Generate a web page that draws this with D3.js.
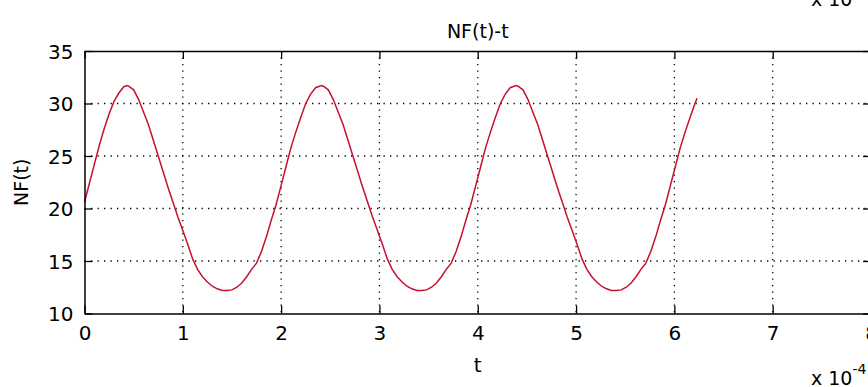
<!DOCTYPE html>
<html><head><meta charset="utf-8">
<script src="https://cdn.jsdelivr.net/npm/d3@7"></script>
<style>
html,body{margin:0;padding:0;background:#fff;overflow:hidden}
text{font-family:"DejaVu Sans",sans-serif;fill:#000}
</style></head>
<body><svg id="c" width="868" height="387"></svg>
<script>
// ---- data (t in units of 1e-4) ----
const tValues = [0,0.05,0.10,0.15,0.20,0.25,0.30,0.35,0.40,0.43,
0.45,0.50,0.55,0.60,0.65,0.70,0.75,0.80,0.85,0.90,0.95,1.00,1.05,1.10,1.15,1.20,1.25,1.30,1.35,1.40,1.45,
1.50,1.55,1.60,1.65,1.70,1.75,1.80,1.85,1.90,1.95,2.00,2.05,2.10,2.15,2.20,2.25,2.30,2.35,2.41,
2.43,2.48,2.53,2.58,2.63,2.68,2.73,2.78,2.83,2.88,2.93,2.98,3.03,3.08,3.13,3.18,3.23,3.28,3.33,3.38,3.43,
3.48,3.53,3.58,3.63,3.68,3.73,3.78,3.83,3.88,3.93,3.98,4.03,4.08,4.13,4.18,4.23,4.28,4.33,4.39,
4.41,4.46,4.51,4.56,4.61,4.66,4.71,4.76,4.81,4.86,4.91,4.96,5.01,5.06,5.11,5.16,5.21,5.26,5.31,5.36,5.41,
5.46,5.51,5.56,5.61,5.66,5.71,5.76,5.81,5.86,5.91,5.96,6.01,6.06,6.11,6.16,6.21,6.23];
const nfValues = [20.6,22.4,24.2,26.0,27.6,29.0,30.2,31.0,31.6,31.7,
31.65,31.3,30.4,29.2,28.0,26.5,25.0,23.5,22.0,20.6,19.2,17.9,16.6,15.2,14.2,13.5,13.0,12.6,12.35,12.2,12.18,
12.25,12.5,12.9,13.5,14.2,14.8,15.9,17.3,18.9,20.4,22.2,24.0,25.8,27.3,28.7,30.0,30.9,31.5,31.7,
31.65,31.3,30.4,29.2,28.0,26.5,25.0,23.5,22.0,20.6,19.2,17.9,16.6,15.2,14.2,13.5,13.0,12.6,12.35,12.2,12.18,
12.25,12.5,12.9,13.5,14.2,14.8,15.9,17.3,18.9,20.4,22.2,24.0,25.8,27.3,28.7,30.0,30.9,31.5,31.7,
31.65,31.3,30.4,29.2,28.0,26.5,25.0,23.5,22.0,20.6,19.2,17.9,16.6,15.2,14.2,13.5,13.0,12.6,12.35,12.2,12.18,
12.25,12.5,12.9,13.5,14.2,14.8,15.9,17.3,18.9,20.4,22.2,24.0,25.8,27.3,28.7,30.0,30.5];
const xTicks = [0,1,2,3,4,5,6,7,8];
const yTicks = [10,15,20,25,30,35];
const titleText = "NF(t)-t";
const xLabel = "t";
const yLabel = "NF(t)";

// ---- layout ----
const L = 84.5, R = 871, T = 51, B = 313.5;
const svg = d3.select("#c");
const x = d3.scaleLinear().domain([0,8]).range([L,R]);
const y = d3.scaleLinear().domain([10,35]).range([B,T]);
const fs = 20;
const FF = "DejaVu Sans, sans-serif";

// grid
const g = svg.append("g");
g.selectAll(".gx").data(xTicks.slice(1,-1)).join("line")
 .attr("x1",d=>x(d)).attr("x2",d=>x(d)).attr("y1",T).attr("y2",B)
 .attr("stroke","#000").attr("stroke-width",1.3).attr("stroke-dasharray","1.3,5.2");
g.selectAll(".gy").data(yTicks.slice(1,-1)).join("line")
 .attr("x1",L).attr("x2",R).attr("y1",d=>y(d)).attr("y2",d=>y(d))
 .attr("stroke","#000").attr("stroke-width",1.3).attr("stroke-dasharray","1.3,5.2");

// curve
const pts = tValues.map((t,i)=>[t,nfValues[i]]);
svg.append("path").datum(pts)
 .attr("d", d3.line().x(d=>x(d[0])).y(d=>y(d[1])))
 .attr("fill","none").attr("stroke","#c8102e").attr("stroke-width",1.5);

// axes (MATLAB style: inward ticks on all sides)
const tl = 8;
const xb = svg.append("g").attr("transform",`translate(0,${B})`)
 .call(d3.axisBottom(x).tickValues(xTicks).tickSize(-tl).tickPadding(tl+4).tickSizeOuter(0));
const xt = svg.append("g").attr("transform",`translate(0,${T})`)
 .call(d3.axisTop(x).tickValues(xTicks).tickSize(-tl).tickFormat("").tickSizeOuter(0));
const yl = svg.append("g").attr("transform",`translate(${L},0)`)
 .call(d3.axisLeft(y).tickValues(yTicks).tickSize(-tl).tickPadding(tl+3).tickSizeOuter(0));
const yr = svg.append("g").attr("transform",`translate(${R},0)`)
 .call(d3.axisRight(y).tickValues(yTicks).tickSize(-tl).tickFormat("").tickSizeOuter(0));
[xb,xt,yl,yr].forEach(a=>{
  a.select(".domain").attr("stroke","#000").attr("stroke-width",1.5);
  a.selectAll(".tick line").attr("stroke","#000").attr("stroke-width",1.3);
  a.selectAll("text").attr("font-family",FF).attr("font-size",fs).attr("fill","#000");
});
yl.selectAll("text").attr("dy","0.36em");

// title & labels
svg.append("text").attr("x",(L+R)/2).attr("y",38).attr("text-anchor","middle").attr("font-size",fs-1).text(titleText);
svg.append("text").attr("x",x(4)).attr("y",372).attr("text-anchor","middle").attr("font-size",fs).text(xLabel);
svg.append("text").attr("transform",`translate(28,${(T+B)/2}) rotate(-90)`).attr("text-anchor","middle").attr("font-size",fs-1).text(yLabel);

// exponent labels
const ex = svg.append("text").attr("x",811).attr("y",385).attr("font-size",fs-1);
ex.append("tspan").text("x 10");
ex.append("tspan").attr("dy",-11).attr("font-size",14).text("-4");
svg.append("text").attr("x",811).attr("y",6).attr("font-size",fs-1).text("x 10");
</script></body></html>
